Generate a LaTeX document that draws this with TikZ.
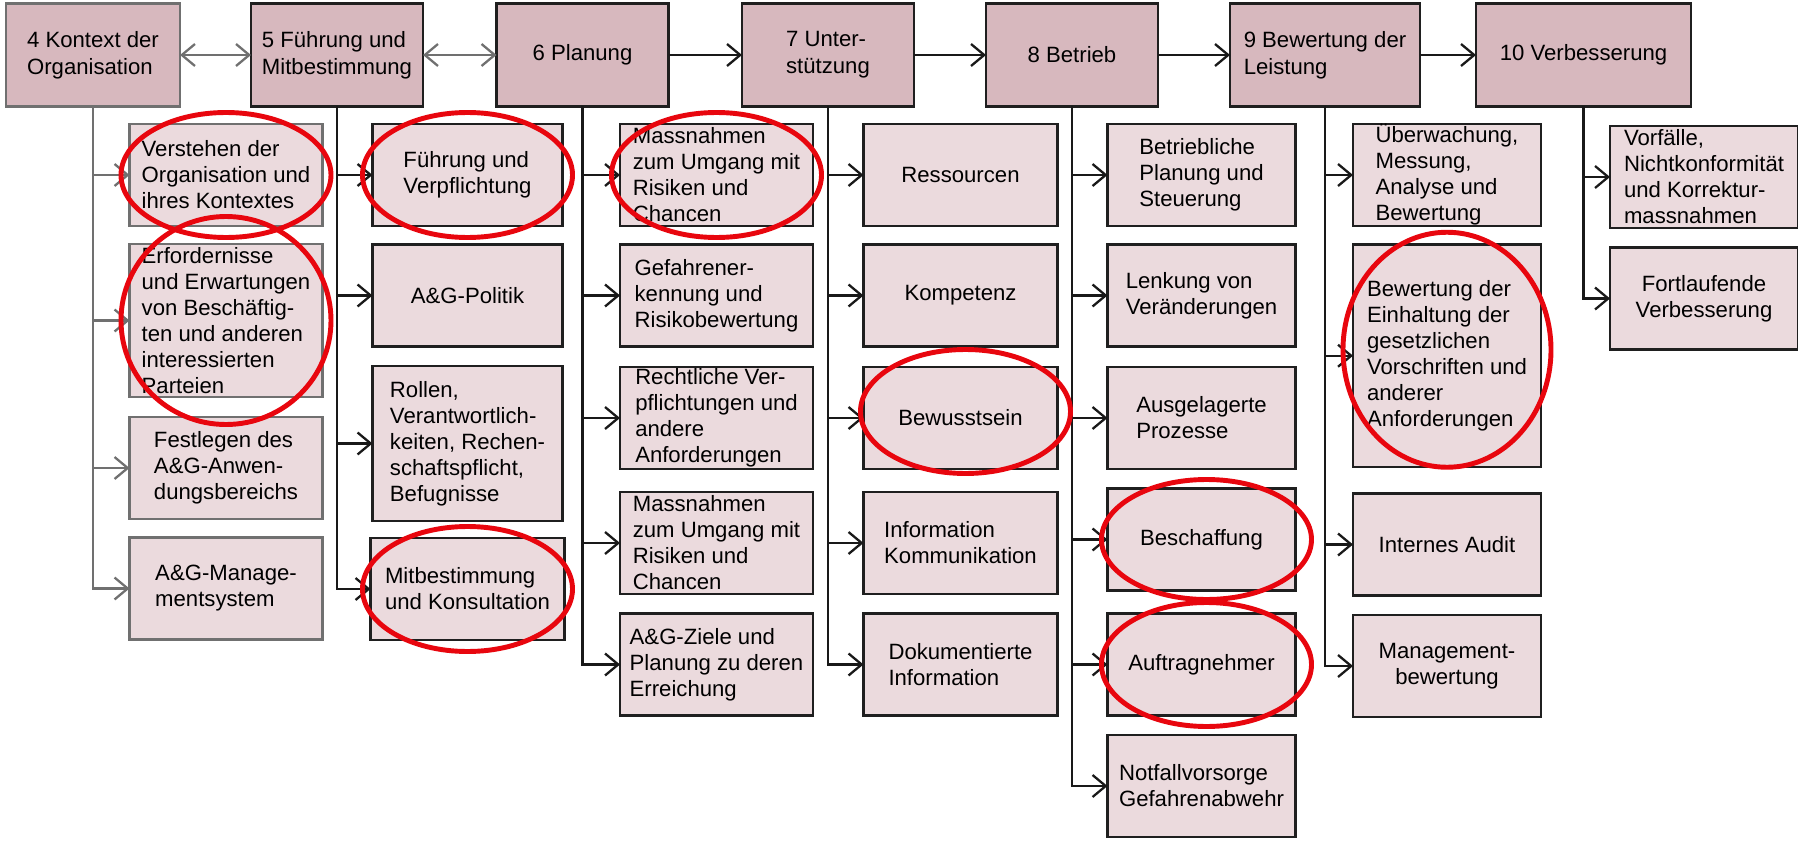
\documentclass[tikz,border=0pt]{standalone}
\usepackage{fontspec}
\setmainfont{Liberation Sans}
\usepackage{tikz}
\usetikzlibrary{arrows.meta, positioning}
\definecolor{headfill}{HTML}{D7B8BE}
\definecolor{itemfill}{HTML}{EBDADD}
\definecolor{linegray}{HTML}{707070}
\definecolor{ringred}{HTML}{E8060E}
\tikzset{
  head/.style={draw=black!88, line width=1.5pt, fill=headfill, minimum height=2.06cm,
    minimum width=3.44cm, inner sep=0pt, outer sep=0pt, align=left,
    font=\fontsize{12.6}{15.5}\selectfont},
  item/.style={draw=black!88, line width=1.5pt, fill=itemfill, minimum height=2.04cm,
    minimum width=3.8cm, inner sep=0pt, outer sep=0pt, align=left,
    font=\fontsize{12.6}{14.8}\selectfont},
  grayed/.style={draw=linegray},
  ring/.style={draw=ringred, line width=2.8pt},
  >={Straight Barb[length=7.5pt, width=12.5pt]},
  link/.style={->, line width=1.3pt, draw=black!90},
  graylink/.style={link, draw=linegray}
}

\begin{document}
\begin{tikzpicture}
\useasboundingbox (0,0) rectangle (35.96,-16.86);
% main clauses
\node[head, grayed, minimum width=3.48cm] (k4) at (1.86,-1.10) {4 Kontext der\\Organisation};
\node[head, right=1.42cm of k4] (k5) {5 Führung und\\Mitbestimmung};
\node[head, right=1.47cm of k5] (k6) {6 Planung};
\node[head, right=1.47cm of k6] (k7) {7 Unter-\\stützung};
\node[head, right=1.44cm of k7] (k8) {8 Betrieb};
\node[head, right=1.44cm of k8, minimum width=3.8cm] (k9) {9 Bewertung der\\Leistung};
\node[head, right=1.12cm of k9, minimum width=4.3cm] (k10) {10 Verbesserung};

% 4
\node[item, grayed, minimum width=3.86cm, below right=0.35cm and 0.73cm of k4.south] (a1) {Verstehen der\\Organisation und\\ihres Kontextes};
\node[item, grayed, minimum width=3.86cm, minimum height=3.06cm, below=0.36cm of a1] (a2) {Erfordernisse\\und Erwartungen\\von Beschäftig-\\ten und anderen\\interessierten\\Parteien};
\node[item, grayed, minimum width=3.86cm, below=0.40cm of a2] (a3) {Festlegen des\\A\&G-Anwen-\\dungsbereichs};
\node[item, grayed, minimum width=3.86cm, below=0.37cm of a3] (a4) {A\&G-Manage-\\mentsystem};

% 5
\node[item, below right=0.35cm and 0.71cm of k5.south] (b1) {Führung und\\Verpflichtung};
\node[item, below=0.37cm of b1] (b2) {A\&G-Politik};
\node[item, minimum height=3.1cm, below=0.39cm of b2] (b3) {Rollen,\\Verantwortlich-\\keiten, Rechen-\\schaftspflicht,\\Befugnisse};
\node[item, minimum width=3.88cm, below=0.34cm of b3] (b4) {Mitbestimmung\\und Konsultation};

% 6
\node[item, minimum width=3.86cm, below right=0.35cm and 0.75cm of k6.south] (c1) {Massnahmen\\zum Umgang mit\\Risiken und\\Chancen};
\node[item, minimum width=3.86cm, below=0.37cm of c1] (c2) {Gefahrener-\\kennung und\\Risikobewertung};
\node[item, minimum width=3.86cm, below=0.41cm of c2] (c3) {Rechtliche Ver-\\pflichtungen und\\andere\\Anforderungen};
\node[item, minimum width=3.86cm, below=0.46cm of c3] (c4) {Massnahmen\\zum Umgang mit\\Risiken und\\Chancen};
\node[item, minimum width=3.86cm, below=0.39cm of c4] (c5) {A\&G-Ziele und\\Planung zu deren\\Erreichung};

% 7
\node[item, minimum width=3.88cm, below right=0.35cm and 0.71cm of k7.south] (d1) {Ressourcen};
\node[item, minimum width=3.88cm, below=0.37cm of d1] (d2) {Kompetenz};
\node[item, minimum width=3.88cm, below=0.41cm of d2] (d3) {Bewusstsein};
\node[item, minimum width=3.88cm, below=0.46cm of d3] (d4) {Information\\Kommunikation};
\node[item, minimum width=3.88cm, below=0.39cm of d4] (d5) {Dokumentierte\\Information};

% 8
\node[item, minimum width=3.76cm, below right=0.35cm and 0.71cm of k8.south] (e1) {Betriebliche\\Planung und\\Steuerung};
\node[item, minimum width=3.76cm, below=0.37cm of e1] (e2) {Lenkung von\\Veränderungen};
\node[item, minimum width=3.76cm, below=0.41cm of e2] (e3) {Ausgelagerte\\Prozesse};
\node[item, minimum width=3.76cm, below=0.39cm of e3] (e4) {Beschaffung};
\node[item, minimum width=3.76cm, below=0.46cm of e4] (e5) {Auftragnehmer};
\node[item, minimum width=3.76cm, below=0.39cm of e5] (e6) {Notfallvorsorge\\Gefahrenabwehr};

% 9
\node[item, minimum width=3.76cm, below right=0.35cm and 0.56cm of k9.south] (f1) {Überwachung,\\Messung,\\Analyse und\\Bewertung};
\node[item, minimum width=3.76cm, minimum height=4.45cm, below=0.37cm of f1] (f2) {Bewertung der\\Einhaltung der\\gesetzlichen\\Vorschriften und\\anderer\\Anforderungen};
\node[item, minimum width=3.76cm, below=0.53cm of f2] (f3) {Internes Audit};
\node[item, minimum width=3.76cm, align=center, below=0.39cm of f3] (f4) {Management-\\bewertung};

% 10
\node[item, minimum width=3.76cm, below right=0.39cm and 0.53cm of k10.south] (g1) {Vorfälle,\\Nichtkonformität\\und Korrektur-\\massnahmen};
\node[item, minimum width=3.76cm, align=center, below=0.39cm of g1] (g2) {Fortlaufende\\Verbesserung};

% top row
\draw[graylink, <->] (k4) -- (k5);
\draw[graylink, <->] (k5) -- (k6);
\draw[link] (k6) -- (k7);
\draw[link] (k7) -- (k8);
\draw[link] (k8) -- (k9);
\draw[link] (k9) -- (k10);

% branches
\draw[graylink] (k4.south) |- (a1.west);
\draw[graylink] (k4.south) |- (a2.west);
\draw[graylink] (k4.south) |- (a3.west);
\draw[graylink] (k4.south) |- (a4.west);

\draw[link] (k5.south) |- (b1.west);
\draw[link] (k5.south) |- (b2.west);
\draw[link] (k5.south) |- (b3.west);
\draw[link] (k5.south) |- (b4.west);

\draw[link] (k6.south) |- (c1.west);
\draw[link] (k6.south) |- (c2.west);
\draw[link] (k6.south) |- (c3.west);
\draw[link] (k6.south) |- (c4.west);
\draw[link] (k6.south) |- (c5.west);

\draw[link] (k7.south) |- (d1.west);
\draw[link] (k7.south) |- (d2.west);
\draw[link] (k7.south) |- (d3.west);
\draw[link] (k7.south) |- (d4.west);
\draw[link] (k7.south) |- (d5.west);

\draw[link] (k8.south) |- (e1.west);
\draw[link] (k8.south) |- (e2.west);
\draw[link] (k8.south) |- (e3.west);
\draw[link] (k8.south) |- (e4.west);
\draw[link] (k8.south) |- (e5.west);
\draw[link] (k8.south) |- (e6.west);

\draw[link] (k9.south) |- (f1.west);
\draw[link] (k9.south) |- (f2.west);
\draw[link] (k9.south) |- (f3.west);
\draw[link] (k9.south) |- (f4.west);

\draw[link] (k10.south) |- (g1.west);
\draw[link] (k10.south) |- (g2.west);

% red marks
\draw[ring] (a1.center) ellipse [x radius=2.1cm, y radius=1.25cm];
\draw[ring] (a2.center) ellipse [x radius=2.1cm, y radius=2.08cm];
\draw[ring] (b1.center) ellipse [x radius=2.1cm, y radius=1.25cm];
\draw[ring] (b4.center) ellipse [x radius=2.1cm, y radius=1.25cm];
\draw[ring] (c1.center) ellipse [x radius=2.1cm, y radius=1.25cm];
\draw[ring] ([shift={(0.1,0.13)}]d3.center) ellipse [x radius=2.1cm, y radius=1.24cm];
\draw[ring] ([xshift=0.1cm]e4.center) ellipse [x radius=2.1cm, y radius=1.2cm];
\draw[ring] ([xshift=0.1cm]e5.center) ellipse [x radius=2.1cm, y radius=1.24cm];
\draw[ring] ([yshift=0.12cm]f2.center) ellipse [x radius=2.08cm, y radius=2.35cm];
\end{tikzpicture}
\end{document}
